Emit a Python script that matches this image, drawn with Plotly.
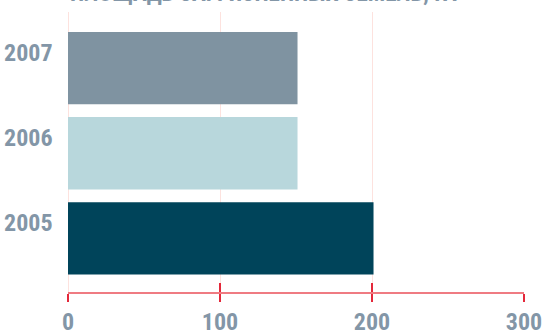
import plotly.graph_objects as go

# Площадь загрязнённых земель по годам
years = ["2005", "2006", "2007"]
area_ha = [201, 151, 151]
bar_colors = ["#00445a", "#b8d7dc", "#7f93a1"]
x_ticks = [0, 100, 200, 300]
title_text = "ПЛОЩАДЬ ЗАГРЯЗНЕННЫХ ЗЕМЕЛЬ, ГА"

label_color = "#8396a7"
font_family = "Roboto Condensed, Roboto, sans-serif"
label_font = dict(family=font_family, size=24, color=label_color, weight="bold")

fig = go.Figure()
fig.add_trace(go.Bar(
    x=area_ha, y=years, orientation="h",
    marker=dict(color=bar_colors, line=dict(width=0)),
    hoverinfo="x+y",
))
# invisible helper trace so the second (crossing-tick) axis is drawn
fig.add_trace(go.Scatter(x=[0], y=[years[0]], xaxis="x2", mode="markers",
                         marker=dict(opacity=0), hoverinfo="skip", showlegend=False))

# year labels sit a little above the middle of each bar
# (category axes place annotations by category index)
year_labels = [dict(
    text=y, x=0, xref="paper", y=i, yref="y",
    xanchor="right", yanchor="middle", xshift=-13, yshift=15,
    showarrow=False, font=label_font,
) for i, y in enumerate(years)]

title_ann = dict(
    text=title_text, xref="paper", yref="paper", x=0, y=1.065,
    xanchor="left", yanchor="middle", showarrow=False,
    font=dict(family=font_family, size=23, color=label_color, weight="bold"),
)

fig.update_layout(
    width=544, height=332,
    margin=dict(l=68, r=20, t=12, b=40),
    paper_bgcolor="white", plot_bgcolor="white",
    showlegend=False,
    bargap=0.15,
    font=dict(family=font_family, color=label_color, size=24),
    xaxis=dict(
        range=[0, 300], tickvals=x_ticks,
        showgrid=True, gridcolor="#fde2de", gridwidth=1,
        zeroline=True, zerolinecolor="#fde2de", zerolinewidth=1,
        showline=True, linecolor="#ef7b82", linewidth=2,
        ticks="outside", ticklen=8, tickwidth=1.5, tickcolor="#e4283a",
        tickfont=label_font,
        ticklabelstandoff=-1,
        automargin=False, fixedrange=True,
    ),
    xaxis2=dict(
        overlaying="x", anchor="y", side="bottom", range=[0, 300],
        tickvals=x_ticks, showgrid=False, zeroline=False, showline=False,
        ticks="inside", ticklen=9, tickwidth=1.5, tickcolor="#e4283a",
        showticklabels=False, automargin=False, fixedrange=True,
    ),
    yaxis=dict(
        type="category", categoryorder="array", categoryarray=years,
        range=[-0.63, 2.66],
        showgrid=False, zeroline=False, showline=False, ticks="",
        showticklabels=False,
        automargin=False, fixedrange=True,
    ),
    annotations=year_labels + [title_ann],
)

fig.write_html("out.html", config={"displayModeBar": False})
